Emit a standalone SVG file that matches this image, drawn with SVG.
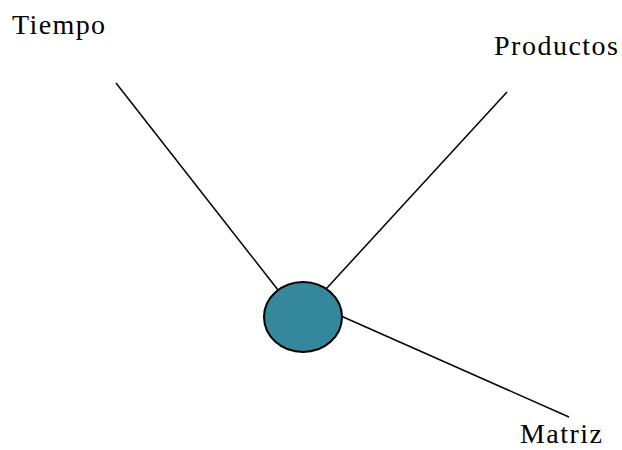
<svg xmlns="http://www.w3.org/2000/svg" width="622" height="450" viewBox="0 0 622 450">
<style>
.lbl{font-family:"Liberation Serif","Times New Roman",serif;font-size:28px;fill:#000}
.edge{stroke:#000;stroke-width:1.5;fill:none}
.node{fill:#35879C;stroke:#000;stroke-width:2}
</style>
<rect width="622" height="450" fill="#fff"/>
<g id="connectors">
<line class="edge" x1="116" y1="83" x2="278" y2="290"/>
<line class="edge" x1="507" y1="92" x2="326" y2="289"/>
<line class="edge" x1="341" y1="316" x2="569" y2="417"/>
</g>
<g id="center"><ellipse class="node" cx="303" cy="317" rx="39" ry="35"/></g>
<g id="tiempo"><text class="lbl" x="12" y="34" textLength="93" lengthAdjust="spacing">Tiempo</text></g>
<g id="productos"><text class="lbl" x="494" y="55" textLength="124" lengthAdjust="spacing">Productos</text></g>
<g id="matriz"><text class="lbl" x="520" y="443" textLength="82" lengthAdjust="spacing">Matriz</text></g>
</svg>
